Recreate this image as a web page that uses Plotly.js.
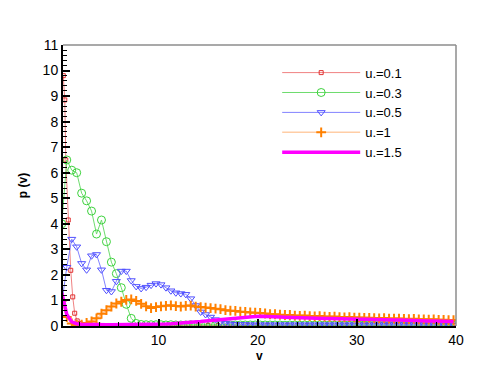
<!DOCTYPE html>
<html>
<head>
<meta charset="utf-8">
<script src="https://cdn.plot.ly/plotly-3.0.1.min.js"></script>
<style>
  body { margin: 0; background: #fff; }
  #chart { width: 485px; height: 369px; }
</style>
</head>
<body>
<div id="chart"></div>
<script>
// v grid shared by u.=0.3, 0.5, 1, 1.5
var v = [0.25,0.75,1.25,1.75,2.25,2.75,3.25,3.75,4.25,4.75,5.25,5.75,6.25,6.75,7.25,7.75,8.25,8.75,9.25,9.75,
  10.25,10.75,11.25,11.75,12.25,12.75,13.25,13.75,14.25,14.75,15.25,15.75,16.25,16.75,17.25,17.75,18.25,18.75,19.25,19.75,
  20.25,20.75,21.25,21.75,22.25,22.75,23.25,23.75,24.25,24.75,25.25,25.75,26.25,26.75,27.25,27.75,28.25,28.75,29.25,29.75,
  30.25,30.75,31.25,31.75,32.25,32.75,33.25,33.75,34.25,34.75,35.25,35.75,36.25,36.75,37.25,37.75,38.25,38.75,39.25,39.75];

// u.=0.1 has its own, finer grid near the origin
var vRed = [0.4,0.55,0.65,0.9,1.15,1.35,1.55,1.8,2.1,2.5,3,3.5,4,
  5,6,7,8,9,10,11,12,13,14,15,16,17,18,19,20,21,22,23,24,25,26,27,28,29,30,31,32,33,34,35,36,37,38,39,40];
var pRed = [9.8,8.85,6.5,4.15,2.18,1.14,0.5,0.2,0.1,0.06,0.04,0.03,0.03,
  0.02,0.02,0.02,0.02,0.02,0.02,0.02,0.02,0.02,0.02,0.02,0.02,0.02,0.02,0.02,0.02,0.02,0.02,0.02,0.02,0.02,0.02,0.02,0.02,0.02,0.02,0.02,0.02,0.02,0.02,0.02,0.02,0.02,0.02,0.02,0.02];

var p03 = [4.0,6.5,6.1,6.0,5.2,4.9,4.5,3.6,4.15,3.3,2.5,2.05,1.5,0.85,0.3,0.1,0.06,0.05,0.05,0.05,
  0.05,0.04,0.05,0.04,0.04,0.04,0.05,0.04,0.04,0.04,0.04,0.04,0.05,0.04,0.04,0.04,0.04,0.04,0.04,0.04,
  0.04,0.04,0.04,0.04,0.04,0.03,0.04,0.04,0.03,0.04,0.04,0.03,0.04,0.03,0.04,0.03,0.03,0.04,0.03,0.03,
  0.03,0.04,0.03,0.03,0.03,0.03,0.03,0.03,0.03,0.03,0.03,0.03,0.03,0.03,0.03,0.03,0.03,0.03,0.03,0.03];

var p05 = [0.9,2.3,3.4,3.1,2.45,2.2,2.75,2.8,2.2,1.4,1.35,1.75,2.15,2.15,1.78,1.55,1.47,1.52,1.6,1.66,
  1.62,1.5,1.38,1.3,1.27,1.24,1.07,0.8,0.55,0.45,0.35,0.25,0.16,0.1,0.08,0.07,0.06,0.06,0.05,0.05,
  0.05,0.05,0.05,0.05,0.05,0.05,0.05,0.05,0.05,0.05,0.05,0.05,0.05,0.05,0.05,0.05,0.05,0.05,0.05,0.05,
  0.05,0.05,0.05,0.05,0.05,0.05,0.05,0.05,0.05,0.05,0.05,0.05,0.05,0.05,0.05,0.05,0.05,0.05,0.05,0.05];

var p1 = [1.0,0.35,0.1,0.04,0.05,0.12,0.18,0.3,0.48,0.62,0.76,0.88,0.95,1.02,1.04,0.98,0.87,0.77,0.7,0.74,
  0.77,0.79,0.81,0.78,0.76,0.79,0.8,0.76,0.74,0.72,0.7,0.68,0.66,0.62,0.6,0.59,0.56,0.55,0.53,0.52,
  0.51,0.49,0.46,0.46,0.44,0.43,0.43,0.41,0.4,0.41,0.39,0.38,0.39,0.37,0.36,0.37,0.35,0.34,0.35,0.33,
  0.33,0.32,0.32,0.31,0.3,0.31,0.29,0.29,0.29,0.28,0.27,0.28,0.26,0.26,0.25,0.26,0.24,0.24,0.23,0.23];

var p15 = [1.3,0.45,0.16,0.09,0.07,0.06,0.06,0.05,0.05,0.05,0.05,0.05,0.05,0.05,0.05,0.05,0.05,0.05,0.06,0.06,
  0.07,0.08,0.09,0.1,0.11,0.12,0.14,0.16,0.18,0.2,0.22,0.24,0.26,0.28,0.3,0.32,0.33,0.35,0.36,0.37,
  0.38,0.38,0.37,0.36,0.35,0.34,0.33,0.33,0.32,0.31,0.31,0.3,0.3,0.29,0.29,0.28,0.28,0.27,0.27,0.26,
  0.26,0.26,0.25,0.25,0.24,0.24,0.24,0.23,0.23,0.22,0.22,0.22,0.21,0.21,0.2,0.2,0.2,0.19,0.19,0.18];

var traceA = {
  x: vRed, y: pRed, type: "scatter", mode: "lines+markers", name: "u.=0.1",
  line: { color: "rgb(240,130,130)", width: 1 },
  marker: { symbol: "square-open", size: 4, color: "rgb(225,50,50)" }
};
var traceB = {
  x: v, y: p03, type: "scatter", mode: "lines+markers", name: "u.=0.3",
  line: { color: "rgb(110,220,110)", width: 1 },
  marker: { symbol: "circle-open", size: 8, color: "rgb(60,210,60)" }
};
var traceC = {
  x: v, y: p05, type: "scatter", mode: "lines+markers", name: "u.=0.5",
  line: { color: "rgb(130,130,255)", width: 1 },
  marker: { symbol: "triangle-down-open", size: 7, color: "rgb(80,80,255)" }
};
var traceD = {
  x: v, y: p1, type: "scatter", mode: "lines+markers", name: "u.=1",
  line: { color: "rgb(255,205,165)", width: 1.5 },
  marker: { symbol: "cross-thin-open", size: 7, color: "rgb(255,128,0)",
            line: { color: "rgb(255,128,0)", width: 2 } }
};
var traceE = {
  x: v, y: p15, type: "scatter", mode: "lines", name: "u.=1.5",
  line: { color: "rgb(255,0,255)", width: 3.5 }
};

var traceData = [traceA, traceB, traceC, traceD, traceE];

var tickFont = { family: "Liberation Sans, Arial, sans-serif", size: 14, color: "black" };
var titleFont = { family: "Liberation Sans, Arial, sans-serif", size: 12, weight: "bold", color: "black" };

var layout = {
  width: 485,
  height: 369,
  margin: { l: 63, r: 29, t: 45, b: 43 },
  paper_bgcolor: "white",
  plot_bgcolor: "white",
  showlegend: true,
  xaxis: {
    range: [0.37, 40],
    tick0: 0, dtick: 10,
    ticks: "inside", ticklen: 7, tickwidth: 2, tickcolor: "black",
    minor: { dtick: 2, ticks: "inside", ticklen: 4, tickwidth: 1, tickcolor: "black" },
    showline: true, linecolor: "black", linewidth: 2,
    showgrid: false, zeroline: false,
    tickfont: tickFont
  },
  yaxis: {
    range: [0, 11],
    tick0: 0, dtick: 1,
    ticks: "inside", ticklen: 7, tickwidth: 2, tickcolor: "black",
    minor: { dtick: 0.2, ticks: "inside", ticklen: 4, tickwidth: 1, tickcolor: "black" },
    showline: true, linecolor: "black", linewidth: 2,
    showgrid: false, zeroline: false,
    tickfont: tickFont,
    title: { text: "p (v)", standoff: 12, font: titleFont }
  },
  legend: {
    x: 0.545, y: 0.955, xanchor: "left", yanchor: "top",
    bgcolor: "rgba(0,0,0,0)",
    itemwidth: 78,
    font: { family: "Liberation Sans, Arial, sans-serif", size: 13, color: "black" }
  },
  // x-axis title sits tight under the tick labels, so place it by hand
  annotations: [
    { xref: "paper", yref: "paper", x: 0.5, y: -0.108, xanchor: "center", yanchor: "middle",
      text: "v", showarrow: false, font: titleFont }
  ],
  shapes: [
    { type: "line", xref: "paper", yref: "paper", x0: 0, x1: 1, y0: 1, y1: 1,
      line: { color: "rgb(140,140,140)", width: 1.5 } },
    { type: "line", xref: "paper", yref: "paper", x0: 1, x1: 1, y0: 0, y1: 1,
      line: { color: "rgb(140,140,140)", width: 1.5 } }
  ]
};

Plotly.newPlot("chart", traceData, layout, { displayModeBar: false });
</script>
</body>
</html>
